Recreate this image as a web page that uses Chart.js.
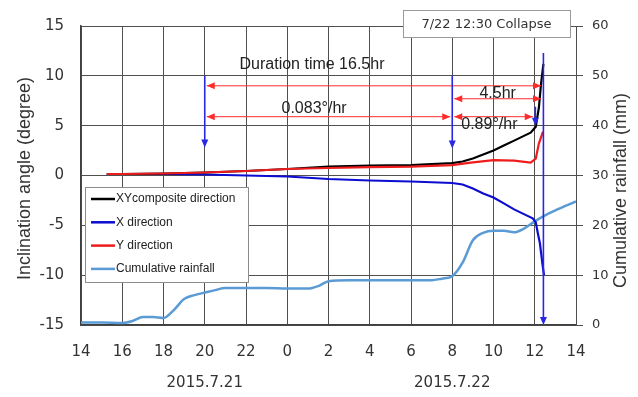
<!DOCTYPE html>
<html>
<head>
<meta charset="utf-8">
<script src="https://cdn.jsdelivr.net/npm/chart.js@4.4.1/dist/chart.umd.min.js"></script>
<style>
    html, body { margin: 0; padding: 0; background: #ffffff; }
    #wrap { width: 638px; height: 397px; }
</style>
</head>
<body>
<div id="wrap"><canvas id="chart" width="638" height="397"></canvas></div>
<script>
// hours counted from 0:00 on 7/21 (24 = 0:00 on 7/22)
const xyHours = [15.25, 16, 18, 20, 22, 24, 26, 28, 30, 31, 32, 32.5, 33, 33.5, 34, 34.5, 35, 35.5, 35.8, 36.05, 36.2, 36.3, 36.42];
const xyValues = [0.15, 0.15, 0.2, 0.3, 0.45, 0.65, 0.9, 1.0, 1.05, 1.15, 1.25, 1.4, 1.7, 2.1, 2.5, 3.0, 3.5, 4.0, 4.3, 4.9, 6.8, 9.1, 11.2];

const xHours = [15.25, 16, 18, 20, 22, 24, 26, 28, 30, 32, 32.5, 33, 33.5, 34, 34.5, 35, 35.5, 35.9, 36.05, 36.15, 36.25, 36.32, 36.38, 36.45];
const xValues = [0.15, 0.15, 0.15, 0.1, 0.0, -0.1, -0.35, -0.5, -0.6, -0.75, -0.9, -1.3, -1.8, -2.2, -2.8, -3.4, -3.9, -4.3, -4.7, -5.8, -6.8, -8.0, -9.0, -10.0];

const yHours = [15.25, 16, 18, 20, 22, 24, 26, 28, 30, 32, 32.9, 34, 35, 35.8, 36.05, 36.2, 36.4];
const yValues = [0.15, 0.15, 0.2, 0.3, 0.45, 0.65, 0.75, 0.85, 0.9, 1.05, 1.3, 1.55, 1.5, 1.3, 1.7, 3.2, 4.4];

const rainHours = [14, 15, 16, 16.5, 17, 17.5, 18, 18.5, 19, 19.5, 20, 20.5, 21, 22, 23, 24, 25, 25.5, 26, 27, 28, 30, 31, 31.5, 32, 32.5, 33, 33.5, 34, 34.5, 35, 35.5, 36, 36.5, 37, 38];
const rainValues = [0.5, 0.5, 0.4, 0.8, 1.6, 1.6, 1.4, 3.0, 5.2, 6.0, 6.5, 7.0, 7.4, 7.4, 7.4, 7.3, 7.3, 7.8, 8.8, 9.0, 9.0, 9.0, 9.0, 9.3, 9.8, 12.5, 17.0, 18.5, 18.9, 18.9, 18.6, 19.4, 20.8, 22.0, 23.0, 24.8];

const seriesNames = ['XYcomposite direction', 'X direction', 'Y direction', 'Cumulative rainfall'];
const seriesColors = ['#000000', '#0c0cd2', '#ee1c1c', '#5b9bd5'];

// annotation arrows, in axis units (hour, degree)
const blueArrows = [
    { x: 20, from: 10, to: 2.8 },
    { x: 32, from: 10, to: 2.7 },
    { x: 36.03, from: 6.9, to: 5.0 },
    { x: 36.42, from: 12.3, to: -15 }
];
const redArrows = [
    { y: 9.0, from: 20, to: 36.4 },
    { y: 7.7, from: 32, to: 36.4 },
    { y: 5.9, from: 20, to: 32 },
    { y: 5.9, from: 32, to: 36.0 }
];
const noteTexts = [
    { x: 25.2, y: 11.1, text: 'Duration time 16.5hr' },
    { x: 25.3, y: 6.75, text: '0.083°/hr' },
    { x: 34.2, y: 8.25, text: '4.5hr' },
    { x: 33.8, y: 5.15, text: '0.89°/hr' }
];
const dateLabels = [
    { x: 20, text: '2015.7.21' },
    { x: 32, text: '2015.7.22' }
];


function toPoints(hours, values) {
    return hours.map((h, i) => ({ x: h, y: values[i] }));
}


function arrowHead(ctx, x, y, dx, dy, color) {
    // tip at (x, y), pointing along (dx, dy)
    const len = 8;
    const half = 3.5;
    const px = -dy;
    const py = dx;
    ctx.fillStyle = color;
    ctx.beginPath();
    ctx.moveTo(x, y);
    ctx.lineTo(x - dx * len + px * half, y - dy * len + py * half);
    ctx.lineTo(x - dx * len - px * half, y - dy * len - py * half);
    ctx.closePath();
    ctx.fill();
}


function rotatedText(ctx, text, x, y) {
    ctx.save();
    ctx.translate(x, y);
    ctx.rotate(-Math.PI / 2);
    ctx.fillText(text, 0, 0);
    ctx.restore();
}


const notesPlugin = {
    id: 'notes',
    afterDatasetsDraw(chart) {
        const ctx = chart.ctx;
        const xs = chart.scales.x;
        const ys = chart.scales.y;

        ctx.save();

        for (const a of redArrows) {
            const y = ys.getPixelForValue(a.y);
            const x1 = xs.getPixelForValue(a.from);
            const x2 = xs.getPixelForValue(a.to);
            ctx.strokeStyle = '#ff2b2b';
            ctx.lineWidth = 1;
            ctx.beginPath();
            ctx.moveTo(x1 + 2, y);
            ctx.lineTo(x2 - 2, y);
            ctx.stroke();
            arrowHead(ctx, x1 + 2, y, -1, 0, '#ff2b2b');
            arrowHead(ctx, x2 - 2, y, 1, 0, '#ff2b2b');
        }

        for (const a of blueArrows) {
            const x = xs.getPixelForValue(a.x);
            const y1 = ys.getPixelForValue(a.from);
            const y2 = ys.getPixelForValue(a.to);
            ctx.strokeStyle = '#2727e6';
            ctx.lineWidth = 1.6;
            ctx.beginPath();
            ctx.moveTo(x, y1);
            ctx.lineTo(x, y2 - 3);
            ctx.stroke();
            arrowHead(ctx, x, y2, 0, 1, '#2727e6');
        }

        ctx.fillStyle = '#222222';
        ctx.font = '16px "Liberation Sans"';
        ctx.textAlign = 'center';
        ctx.textBaseline = 'middle';
        for (const t of noteTexts) {
            ctx.fillText(t.text, xs.getPixelForValue(t.x), ys.getPixelForValue(t.y));
        }

        ctx.restore();
    },
    afterDraw(chart) {
        const ctx = chart.ctx;
        const area = chart.chartArea;
        const xs = chart.scales.x;

        ctx.save();

        // date labels under the hour ticks
        ctx.fillStyle = '#333333';
        ctx.font = '15px "DejaVu Sans"';
        ctx.textAlign = 'center';
        ctx.textBaseline = 'middle';
        for (const d of dateLabels) {
            ctx.fillText(d.text, xs.getPixelForValue(d.x), area.bottom + 58);
        }

        // axis titles, both read bottom to top
        ctx.font = '18px "Liberation Sans"';
        ctx.fillStyle = '#333333';
        const midY = (area.top + area.bottom) / 2;
        rotatedText(ctx, 'Inclination angle (degree)', 25, midY + 3);
        rotatedText(ctx, 'Cumulative rainfall (mm)', 621, midY + 15);

        // collapse box
        const bx = 403;
        const by = 10;
        const bw = 167;
        const bh = 27;
        ctx.fillStyle = '#ffffff';
        ctx.fillRect(bx, by, bw, bh);
        ctx.strokeStyle = '#9a9a9a';
        ctx.lineWidth = 1;
        ctx.strokeRect(bx + 0.5, by + 0.5, bw, bh);
        ctx.fillStyle = '#333333';
        ctx.font = '13px "DejaVu Sans"';
        ctx.fillText('7/22 12:30 Collapse', bx + bw / 2, by + bh / 2 + 1);

        // legend inside the plot
        const lx = area.left + 4;
        const ly = 187;
        const lw = 163;
        const lh = 95;
        ctx.fillStyle = '#ffffff';
        ctx.fillRect(lx, ly, lw, lh);
        ctx.strokeStyle = '#8c8c8c';
        ctx.strokeRect(lx + 0.5, ly + 0.5, lw, lh);
        ctx.font = '12px "Liberation Sans"';
        ctx.textAlign = 'left';
        for (let i = 0; i < seriesNames.length; i++) {
            const rowY = ly + 12 + i * 23.3;
            ctx.strokeStyle = seriesColors[i];
            ctx.lineWidth = 2.5;
            ctx.beginPath();
            ctx.moveTo(lx + 6, rowY);
            ctx.lineTo(lx + 30, rowY);
            ctx.stroke();
            ctx.fillStyle = '#222222';
            ctx.fillText(seriesNames[i], lx + 31, rowY);
        }

        ctx.restore();
    }
};


const ctx = document.getElementById('chart').getContext('2d');

new Chart(ctx, {
    type: 'line',
    data: {
        datasets: [
            {
                label: seriesNames[0],
                data: toPoints(xyHours, xyValues),
                borderColor: seriesColors[0],
                borderWidth: 2.2,
                pointRadius: 0,
                yAxisID: 'y',
                order: 1
            },
            {
                label: seriesNames[1],
                data: toPoints(xHours, xValues),
                borderColor: seriesColors[1],
                borderWidth: 2.2,
                pointRadius: 0,
                yAxisID: 'y',
                order: 2
            },
            {
                label: seriesNames[2],
                data: toPoints(yHours, yValues),
                borderColor: seriesColors[2],
                borderWidth: 2.2,
                pointRadius: 0,
                yAxisID: 'y',
                order: 0
            },
            {
                label: seriesNames[3],
                data: toPoints(rainHours, rainValues),
                borderColor: seriesColors[3],
                borderWidth: 2.5,
                pointRadius: 0,
                cubicInterpolationMode: 'monotone',
                yAxisID: 'y2',
                order: 3
            }
        ]
    },
    options: {
        responsive: false,
        animation: false,
        layout: { padding: { top: 23, left: 0, right: 0, bottom: 0 } },
        plugins: {
            legend: { display: false },
            tooltip: { enabled: false }
        },
        scales: {
            x: {
                type: 'linear',
                min: 14,
                max: 38,
                afterFit: (s) => { s.height = 72; },
                ticks: {
                    stepSize: 2,
                    padding: 18,
                    color: '#333333',
                    font: { family: 'DejaVu Sans', size: 15 },
                    callback: (v) => String(v % 24)
                },
                grid: { color: '#505050', lineWidth: 1, drawTicks: false },
                border: { color: '#404040', width: 1.5 }
            },
            y: {
                position: 'left',
                min: -15,
                max: 15,
                afterFit: (s) => { s.width = 81; },
                ticks: {
                    stepSize: 5,
                    padding: 17,
                    color: '#333333',
                    font: { family: 'DejaVu Sans', size: 15 }
                },
                grid: { color: '#505050', lineWidth: 1, drawTicks: false },
                border: { color: '#404040', width: 1.5 }
            },
            y2: {
                position: 'right',
                min: 0,
                max: 60,
                afterFit: (s) => { s.width = 62; },
                ticks: {
                    stepSize: 10,
                    padding: 9,
                    color: '#333333',
                    font: { family: 'DejaVu Sans', size: 13 }
                },
                grid: { drawOnChartArea: false, color: '#505050', tickLength: 7 },
                border: { color: '#505050', width: 1 }
            }
        }
    },
    plugins: [notesPlugin]
});
</script>
</body>
</html>
